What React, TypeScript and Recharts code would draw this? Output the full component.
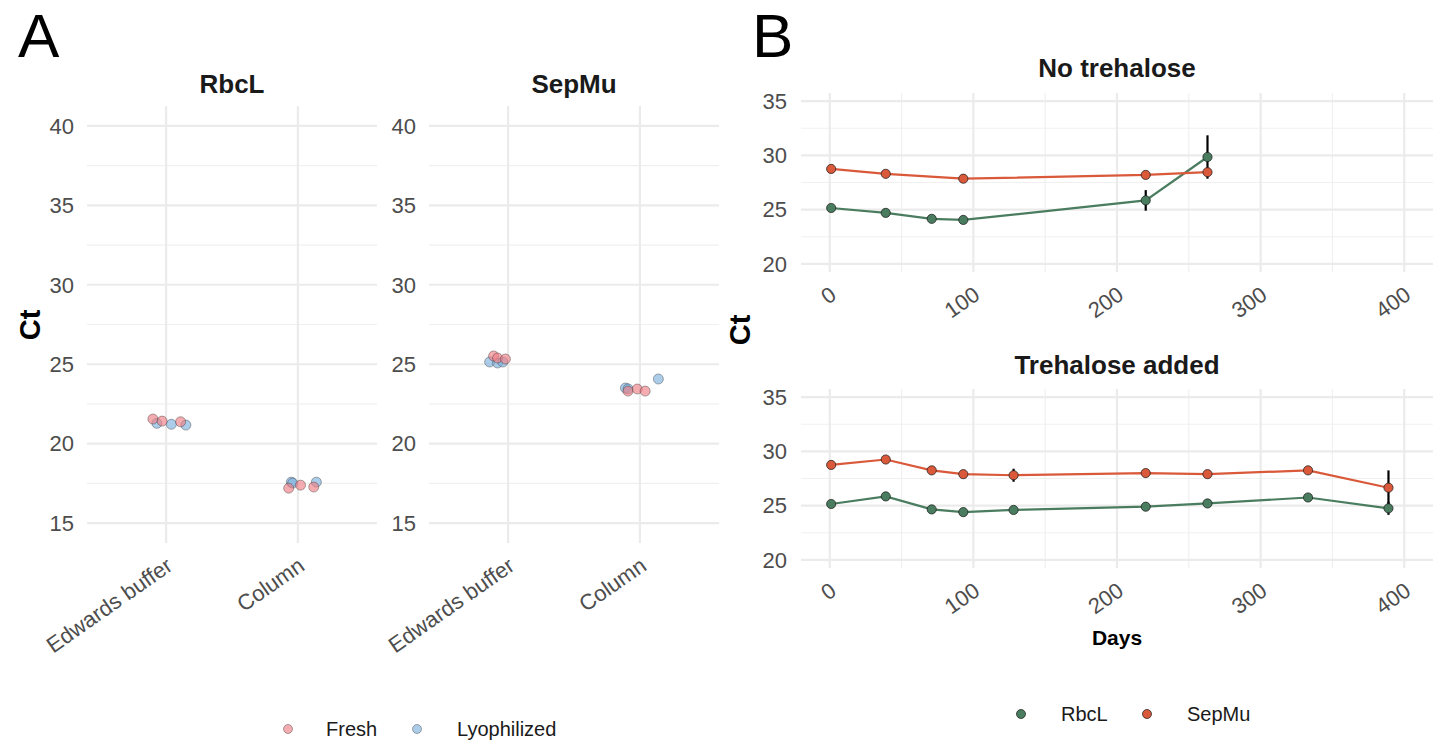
import React from 'react';
import { CartesianGrid, ComposedChart, ErrorBar, Line, Scatter, ScatterChart, XAxis, YAxis } from 'recharts';

// ---- panel A: Ct by extraction method (x = category index + jitter)
const categories = ['Edwards buffer', 'Column'];

const rbclFresh = [
  { x: 0.9, ct: 21.55 }, { x: 0.97, ct: 21.42 }, { x: 1.11, ct: 21.38 },
  { x: 1.93, ct: 17.2 }, { x: 2.02, ct: 17.39 }, { x: 2.12, ct: 17.27 },
];
const rbclLyo = [
  { x: 0.93, ct: 21.28 }, { x: 1.04, ct: 21.22 }, { x: 1.15, ct: 21.17 },
  { x: 1.95, ct: 17.58 }, { x: 1.96, ct: 17.52 }, { x: 2.14, ct: 17.58 },
];
const sepmuFresh = [
  { x: 0.89, ct: 25.52 }, { x: 0.92, ct: 25.39 }, { x: 0.98, ct: 25.33 },
  { x: 1.91, ct: 23.31 }, { x: 1.98, ct: 23.44 }, { x: 2.04, ct: 23.31 },
];
const sepmuLyo = [
  { x: 0.86, ct: 25.14 }, { x: 0.92, ct: 25.08 }, { x: 0.96, ct: 25.14 },
  { x: 1.89, ct: 23.5 }, { x: 1.91, ct: 23.45 }, { x: 2.14, ct: 24.07 },
];

const ctTicksA = [15, 20, 25, 30, 35, 40];
const ctMinorA = [17.5, 22.5, 27.5, 32.5, 37.5];

// ---- panel B: Ct over storage time
const daysNoTre = [1, 39, 71, 93, 220, 263];
const rbclNoTre = [25.15, 24.7, 24.15, 24.05, 25.85, 29.85];
const rbclNoTreSd = [0.1, 0.1, 0.2, 0.1, 0.95, 2.0];

const daysNoTreSep = [1, 39, 93, 220, 263];
const sepmuNoTre = [28.75, 28.3, 27.85, 28.2, 28.45];
const sepmuNoTreSd = [0.15, 0.1, 0.1, 0.25, 0.3];

const daysTre = [1, 39, 71, 93, 128, 220, 263, 333, 389];
const rbclTre = [25.15, 25.85, 24.65, 24.4, 24.6, 24.9, 25.2, 25.75, 24.75];
const rbclTreSd = [0.1, 0.1, 0.1, 0.1, 0.1, 0.3, 0.3, 0.1, 0.6];
const sepmuTre = [28.75, 29.25, 28.25, 27.9, 27.8, 28.0, 27.9, 28.25, 26.65];
const sepmuTreSd = [0.1, 0.1, 0.35, 0.1, 0.6, 0.15, 0.15, 0.1, 1.6];

const dayTicks = [0, 100, 200, 300, 400];
const dayMinor = [50, 150, 250, 350];
const ctTicksB = [20, 25, 30, 35];
const ctMinorB = [22.5, 27.5, 32.5];

const toRows = (days: number[], ct: number[], sd: number[]) =>
  days.map((day, i) => ({ day, ct: ct[i], err: sd[i] }));

const green = '#4A7D5F';
const orange = '#D9593A';
const axisGrey = '#4D4D4D';
const font = '"Liberation Sans", Arial, Helvetica, sans-serif';

const AngledTick = (props: any) => {
  const { x, y, payload, labels } = props;
  const label = labels ? labels[payload.value - 1] : payload.value;
  const ax = x + 8;
  const ay = y + 26;
  return (
    <text x={ax} y={ay} transform={`rotate(-35, ${ax}, ${ay})`} textAnchor="end" fill={axisGrey} fontSize={22}>
      {label}
    </text>
  );
};

const dot = (r: number, fill: string, opacity: number, stroke: string, strokeOpacity: number) => (p: any) =>
  <circle cx={p.cx} cy={p.cy} r={r} fill={fill} fillOpacity={opacity} stroke={stroke} strokeOpacity={strokeOpacity} strokeWidth={0.9} />;

const noShape = () => <g />;

const StripPanel = ({ left, yWidth, fresh, lyo }: any) => (
  <div style={{ position: 'absolute', left, top: 0 }}>
    <ScatterChart width={380} height={680} margin={{ top: 106, right: 380 - yWidth - 290, bottom: 0, left: 0 }}>
      <CartesianGrid horizontalValues={ctMinorA} vertical={false} stroke="#F0F0F0" strokeWidth={1.2} />
      <CartesianGrid horizontalValues={ctTicksA} verticalValues={[1, 2]} stroke="#EBEBEB" strokeWidth={2.2} />
      <XAxis type="number" dataKey="x" domain={[0.4, 2.6]} ticks={[1, 2]} allowDataOverflow interval={0}
        axisLine={false} tickLine={false} tickSize={0} tickMargin={0} height={137}
        tick={(p: any) => <AngledTick {...p} labels={categories} />} />
      <YAxis type="number" dataKey="ct" domain={[13.75, 41.25]} ticks={ctTicksA} allowDataOverflow interval={0}
        axisLine={false} tickLine={false} tickSize={0} tickMargin={13} width={yWidth}
        tick={{ fill: axisGrey, fontSize: 22 }} />
      <Scatter data={lyo} dataKey="ct" isAnimationActive={false} shape={dot(5, '#7FB2DE', 0.65, '#333', 0.45)} />
      <Scatter data={fresh} dataKey="ct" isAnimationActive={false} shape={dot(5, '#EF7F86', 0.65, '#333', 0.45)} />
    </ScatterChart>
  </div>
);

const TimePanel = ({ top, height, marginTop, xHeight, rbcl, sepmu }: any) => (
  <div style={{ position: 'absolute', left: 720, top }}>
    <ComposedChart width={718} height={height} margin={{ top: marginTop, right: 5, bottom: 0, left: 0 }}>
      <CartesianGrid horizontalValues={ctMinorB} verticalValues={dayMinor} stroke="#F0F0F0" strokeWidth={1.2} />
      <CartesianGrid horizontalValues={ctTicksB} verticalValues={dayTicks} stroke="#EBEBEB" strokeWidth={2.2} />
      <XAxis type="number" dataKey="day" domain={[-20, 420]} ticks={dayTicks} allowDataOverflow interval={0}
        axisLine={false} tickLine={false} tickSize={0} tickMargin={0} height={xHeight}
        tick={(p: any) => <AngledTick {...p} />} />
      <YAxis type="number" dataKey="ct" domain={[19.25, 35.75]} ticks={ctTicksB} allowDataOverflow interval={0}
        axisLine={false} tickLine={false} tickSize={0} tickMargin={14} width={81}
        tick={{ fill: axisGrey, fontSize: 22 }} />
      <Line data={rbcl} dataKey="ct" stroke={green} strokeWidth={2.2} dot={false} isAnimationActive={false} />
      <Line data={sepmu} dataKey="ct" stroke={orange} strokeWidth={2.2} dot={false} isAnimationActive={false} />
      <Scatter data={rbcl} dataKey="ct" isAnimationActive={false} shape={dot(4.6, green, 1, '#1a1a1a', 0.8)} />
      <Scatter data={sepmu} dataKey="ct" isAnimationActive={false} shape={dot(4.6, orange, 1, '#1a1a1a', 0.8)} />
      <Scatter data={rbcl} dataKey="ct" isAnimationActive={false} shape={noShape}>
        <ErrorBar dataKey="err" direction="y" width={0} stroke="#000" strokeWidth={2.2} />
      </Scatter>
      <Scatter data={sepmu} dataKey="ct" isAnimationActive={false} shape={noShape}>
        <ErrorBar dataKey="err" direction="y" width={0} stroke="#000" strokeWidth={2.2} />
      </Scatter>
    </ComposedChart>
  </div>
);

export default function App() {
  return (
    <div style={{ position: 'relative', width: 1438, height: 742, background: '#fff', overflow: 'hidden', fontFamily: font }}>
      <style>{'body{margin:0}'}</style>
      <svg width={1438} height={742} style={{ position: 'absolute', left: 0, top: 0 }} fontFamily={font}>
        <text x={18} y={57} fontSize={62}>A</text>
        <text x={752} y={57} fontSize={62}>B</text>
        <text x={232} y={93} fontSize={26} fontWeight="bold" textAnchor="middle" fill="#1a1a1a">RbcL</text>
        <text x={574} y={93} fontSize={26} fontWeight="bold" textAnchor="middle" fill="#1a1a1a">SepMu</text>
        <text x={1117} y={77} fontSize={26} fontWeight="bold" textAnchor="middle" fill="#1a1a1a">No trehalose</text>
        <text x={1117} y={374} fontSize={26} fontWeight="bold" textAnchor="middle" fill="#1a1a1a">Trehalose added</text>
        <text x={40} y={325} fontSize={29} fontWeight="bold" textAnchor="middle" transform="rotate(-90, 40, 325)">Ct</text>
        <text x={750} y={330} fontSize={29} fontWeight="bold" textAnchor="middle" transform="rotate(-90, 750, 330)">Ct</text>
        <text x={1117} y={645} fontSize={21} fontWeight="bold" textAnchor="middle">Days</text>

        <circle cx={288} cy={729} r={4.5} fill="#EF7F86" fillOpacity={0.65} stroke="#333" strokeOpacity={0.45} strokeWidth={0.9} />
        <text x={326} y={736} fontSize={20} fill="#1a1a1a">Fresh</text>
        <circle cx={417} cy={729} r={4.5} fill="#7FB2DE" fillOpacity={0.65} stroke="#333" strokeOpacity={0.45} strokeWidth={0.9} />
        <text x={457} y={736} fontSize={20} fill="#1a1a1a">Lyophilized</text>

        <circle cx={1021} cy={714} r={4.5} fill={green} stroke="#1a1a1a" strokeOpacity={0.8} strokeWidth={0.9} />
        <text x={1061} y={721} fontSize={20} fill="#1a1a1a">RbcL</text>
        <circle cx={1147} cy={714} r={4.5} fill={orange} stroke="#1a1a1a" strokeOpacity={0.8} strokeWidth={0.9} />
        <text x={1187} y={721} fontSize={20} fill="#1a1a1a">SepMu</text>
      </svg>

      <StripPanel left={0} yWidth={87} fresh={rbclFresh} lyo={rbclLyo} />
      <StripPanel left={340} yWidth={89} fresh={sepmuFresh} lyo={sepmuLyo} />

      <TimePanel top={0} height={340} marginTop={93} xHeight={68}
        rbcl={toRows(daysNoTre, rbclNoTre, rbclNoTreSd)} sepmu={toRows(daysNoTreSep, sepmuNoTre, sepmuNoTreSd)} />
      <TimePanel top={330} height={310} marginTop={59} xHeight={72}
        rbcl={toRows(daysTre, rbclTre, rbclTreSd)} sepmu={toRows(daysTre, sepmuTre, sepmuTreSd)} />
    </div>
  );
}
